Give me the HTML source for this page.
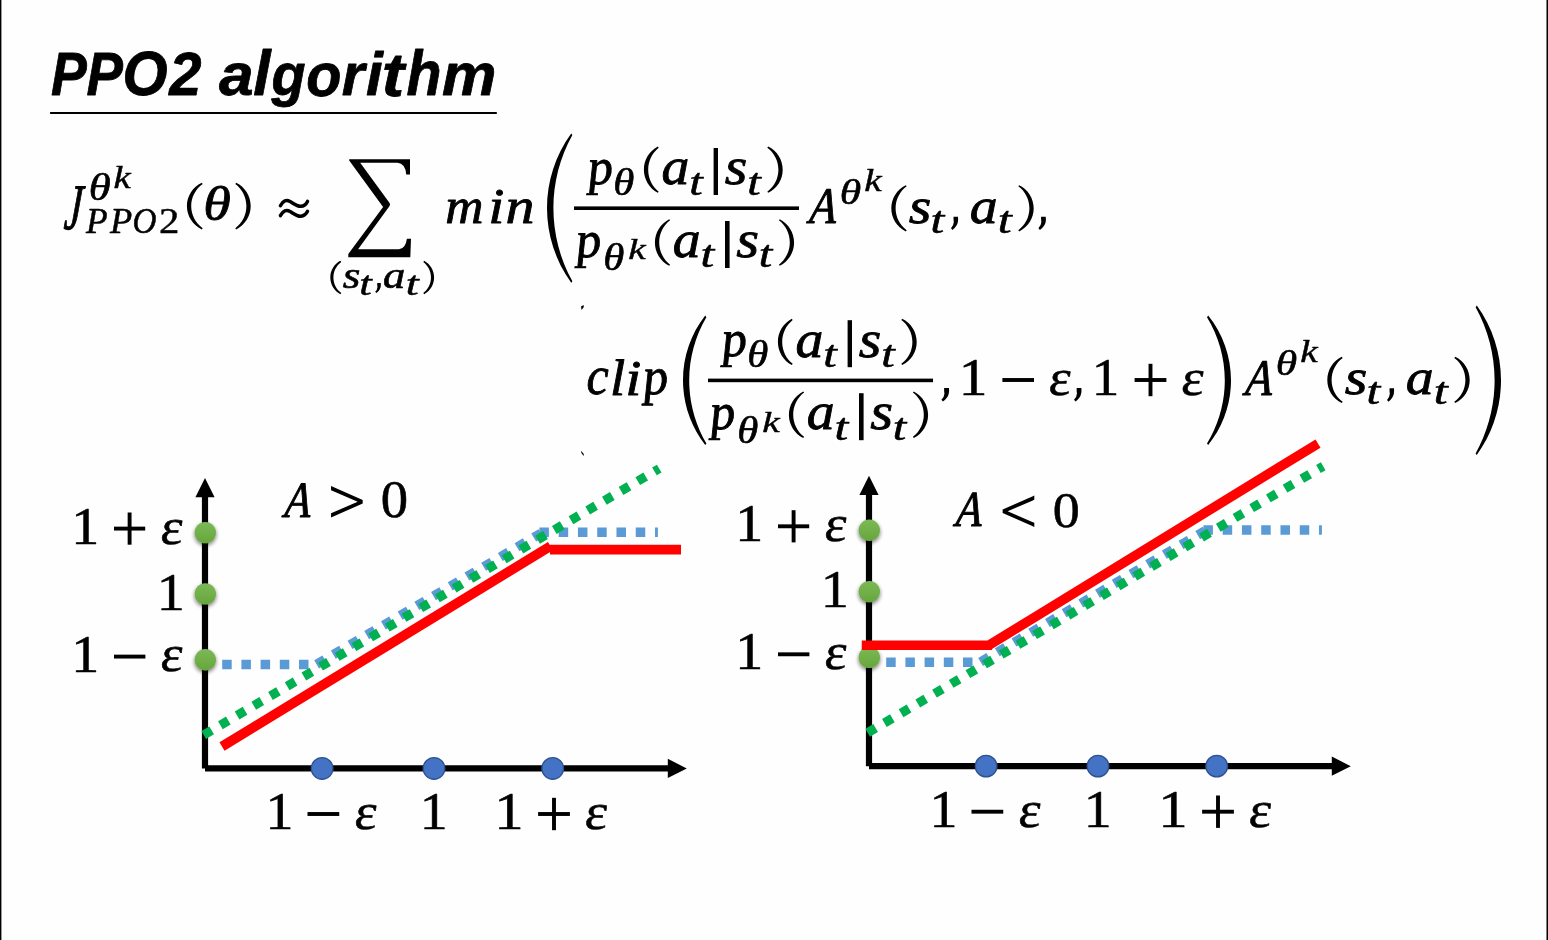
<!DOCTYPE html>
<html><head><meta charset="utf-8"><title>PPO2 algorithm</title>
<style>
html,body{margin:0;padding:0;background:#fff;}
body{width:1548px;height:940px;overflow:hidden;position:relative;font-family:"Liberation Sans",sans-serif;}
svg{position:absolute;left:0;top:0;display:block}
text{font-size:100px;fill:#000;stroke:#000;stroke-linejoin:round;}
.i{font-family:"Liberation Serif",serif;font-style:italic;}
.r{font-family:"Liberation Serif",serif;}
.b{font-family:"Liberation Sans",sans-serif;font-style:italic;font-weight:bold;}
</style></head><body>
<svg width="1548" height="940" viewBox="0 0 1548 940">
<defs>
<linearGradient id="gg" x1="0" y1="0" x2="0" y2="1"><stop offset="0" stop-color="#7CB957"/><stop offset="1" stop-color="#67A63B"/></linearGradient>
<filter id="sh" x="-50%" y="-50%" width="200%" height="200%"><feGaussianBlur in="SourceAlpha" stdDeviation="2"/><feOffset dx="0" dy="1.8" result="b"/><feComponentTransfer><feFuncA type="linear" slope="0.55"/></feComponentTransfer><feMerge><feMergeNode/><feMergeNode in="SourceGraphic"/></feMerge></filter>
</defs>
<rect x="0" y="0" width="1548" height="940" fill="#fefefe"/>
<rect x="0" y="0" width="1.4" height="940" fill="#000"/>
<rect x="1546.5" y="0" width="1.5" height="940" fill="#000"/>
<g opacity="0.999">
<text class="b" stroke-width="1.39" transform="matrix(0.5362,0,-0.0000,0.6119,51.06,94.90)">P</text>
<text class="b" stroke-width="1.38" transform="matrix(0.5454,0,-0.0000,0.6119,86.44,94.90)">P</text>
<text class="b" stroke-width="1.33" transform="matrix(0.5797,0,-0.0000,0.6215,122.57,95.39)">O</text>
<text class="b" stroke-width="1.34" transform="matrix(0.5788,0,-0.0000,0.6130,169.20,95.00)">2</text>
<text class="b" stroke-width="1.31" transform="matrix(0.6226,0,-0.0000,0.5969,218.90,95.42)">a</text>
<text class="b" stroke-width="1.28" transform="matrix(0.6227,0,-0.0000,0.6252,253.34,94.90)">l</text>
<text class="b" stroke-width="1.39" transform="matrix(0.5576,0,-0.0000,0.5972,271.49,95.21)">g</text>
<text class="b" stroke-width="1.36" transform="matrix(0.5750,0,-0.0000,0.6047,306.13,95.61)">o</text>
<text class="b" stroke-width="1.36" transform="matrix(0.5845,0,-0.0000,0.5928,341.70,95.00)">r</text>
<text class="b" stroke-width="1.31" transform="matrix(0.6047,0,-0.0000,0.6155,366.07,95.00)">i</text>
<text class="b" stroke-width="1.25" transform="matrix(0.6734,0,-0.0000,0.6105,381.87,95.72)">t</text>
<text class="b" stroke-width="1.33" transform="matrix(0.5727,0,-0.0000,0.6265,406.42,95.00)">h</text>
<text class="b" stroke-width="1.33" transform="matrix(0.6116,0,-0.0000,0.5934,442.05,95.00)">m</text>
<rect x="50.10" y="112.00" width="446.70" height="2.00" fill="#000"/>
<text class="i" stroke-width="1.72" transform="matrix(0.3983,0,-0.0478,0.6486,63.19,228.92)">J</text>
<text class="i" stroke-width="1.58" transform="matrix(0.4476,0,-0.0000,0.3717,88.74,200.31)">θ</text>
<text class="i" stroke-width="1.58" transform="matrix(0.3873,0,-0.0000,0.3206,113.56,188.12)">k</text>
<text class="i" stroke-width="1.40" transform="matrix(0.3537,0,-0.0000,0.3589,86.04,232.75)">P</text>
<text class="i" stroke-width="1.38" transform="matrix(0.3639,0,-0.0000,0.3589,110.05,232.75)">P</text>
<text class="i" stroke-width="1.43" transform="matrix(0.3316,0,-0.0000,0.3676,132.58,232.99)">O</text>
<text class="r" stroke-width="1.18" transform="matrix(0.4079,0,-0.0000,0.3557,159.03,232.78)">2</text>
<path d="M201.80,182.80 C192.72,187.00 186.90,196.09 186.90,206.10 C186.90,216.11 192.72,225.20 201.80,229.40 L202.70,228.23 C195.49,223.17 191.20,214.91 191.20,206.10 C191.20,197.29 195.49,189.03 202.70,183.97 Z" fill="#000"/>
<text class="i" stroke-width="1.63" transform="matrix(0.5619,0,-0.0000,0.4929,203.28,219.89)">θ</text>
<path d="M236.20,182.80 C245.08,187.17 250.70,196.21 250.70,206.10 C250.70,215.99 245.08,225.03 236.20,229.40 L235.30,228.23 C242.29,223.02 246.40,214.82 246.40,206.10 C246.40,197.38 242.29,189.18 235.30,183.97 Z" fill="#000"/>
<path d="M340.40,260.80 C334.19,264.06 330.30,270.49 330.30,277.50 C330.30,284.51 334.19,290.94 340.40,294.20 L341.30,293.03 C336.35,289.41 333.42,283.64 333.42,277.50 C333.42,271.36 336.35,265.59 341.30,261.97 Z" fill="#000"/>
<text class="i" stroke-width="1.63" transform="matrix(0.4533,0,-0.0000,0.3891,342.79,287.68)">s</text>
<text class="i" stroke-width="1.49" transform="matrix(0.4497,0,-0.0000,0.3321,359.31,294.99)">t</text>
<path d="M377.23,283.10 L380.83,283.10 Q381.35,287.60 379.38,290.10 Q378.10,291.90 376.36,293.10 L375.20,291.80 Q377.29,289.90 377.46,287.10 Q377.11,285.10 377.23,283.10 Z" fill="#000"/>
<text class="i" stroke-width="1.64" transform="matrix(0.4465,0,-0.0000,0.3891,383.01,287.66)">a</text>
<text class="i" stroke-width="1.46" transform="matrix(0.4655,0,-0.0000,0.3321,405.84,294.99)">t</text>
<path d="M424.20,260.80 C430.30,264.14 434.10,270.54 434.10,277.50 C434.10,284.46 430.30,290.86 424.20,294.20 L423.30,293.03 C428.14,289.33 430.98,283.59 430.98,277.50 C430.98,271.41 428.14,265.67 423.30,261.97 Z" fill="#000"/>
<text class="i" stroke-width="1.73" transform="matrix(0.5295,0,-0.0000,0.5115,445.14,222.95)">m</text>
<text class="i" stroke-width="1.61" transform="matrix(0.5802,0,-0.0000,0.4974,488.20,222.97)">i</text>
<text class="i" stroke-width="1.65" transform="matrix(0.5794,0,-0.0000,0.5115,505.38,222.95)">n</text>
<path d="M1041.06,216.70 L1045.77,216.70 Q1046.46,222.73 1043.87,226.08 Q1042.20,228.49 1039.92,230.10 L1038.40,228.36 Q1041.14,225.81 1041.36,222.06 Q1040.91,219.38 1041.06,216.70 Z" fill="#000"/>
<text class="i" stroke-width="1.76" transform="matrix(0.5013,0,0.0351,0.5132,588.64,183.63)">p</text>
<text class="i" stroke-width="1.61" transform="matrix(0.4287,0,-0.0000,0.3690,613.23,194.52)">θ</text>
<path d="M657.80,146.60 C649.25,151.13 643.90,160.02 643.90,169.70 C643.90,179.38 649.25,188.27 657.80,192.80 L658.70,191.63 C652.06,186.29 648.20,178.22 648.20,169.70 C648.20,161.18 652.06,153.11 658.70,147.77 Z" fill="#000"/>
<text class="i" stroke-width="1.67" transform="matrix(0.5571,0,-0.0000,0.5219,661.39,184.41)">a</text>
<text class="i" stroke-width="1.53" transform="matrix(0.4861,0,-0.0000,0.3761,689.19,194.50)">t</text>
<text class="i" stroke-width="1.63" transform="matrix(0.5798,0,-0.0000,0.5219,724.74,184.44)">s</text>
<text class="i" stroke-width="1.53" transform="matrix(0.4861,0,-0.0000,0.3761,747.19,194.50)">t</text>
<path d="M768.20,146.60 C777.07,150.88 782.70,159.86 782.70,169.70 C782.70,179.54 777.07,188.52 768.20,192.80 L767.30,191.63 C774.28,186.50 778.40,178.36 778.40,169.70 C778.40,161.04 774.28,152.90 767.30,147.77 Z" fill="#000"/>
<text class="i" stroke-width="1.76" transform="matrix(0.5013,0,0.0351,0.5132,577.04,256.63)">p</text>
<text class="i" stroke-width="1.62" transform="matrix(0.4285,0,-0.0000,0.3717,603.23,270.31)">θ</text>
<text class="i" stroke-width="1.52" transform="matrix(0.3926,0,-0.0000,0.3037,628.13,259.34)">k</text>
<path d="M669.20,219.20 C660.43,223.66 654.90,232.66 654.90,242.50 C654.90,252.34 660.43,261.34 669.20,265.80 L670.10,264.63 C663.23,259.35 659.20,251.17 659.20,242.50 C659.20,233.83 663.23,225.65 670.10,220.37 Z" fill="#000"/>
<text class="i" stroke-width="1.67" transform="matrix(0.5571,0,-0.0000,0.5219,672.79,257.01)">a</text>
<text class="i" stroke-width="1.52" transform="matrix(0.4937,0,-0.0000,0.3795,700.56,267.30)">t</text>
<text class="i" stroke-width="1.63" transform="matrix(0.5856,0,-0.0000,0.5219,736.14,257.04)">s</text>
<text class="i" stroke-width="1.53" transform="matrix(0.4858,0,-0.0000,0.3795,758.80,267.30)">t</text>
<path d="M779.80,219.20 C788.57,223.66 794.10,232.66 794.10,242.50 C794.10,252.34 788.57,261.34 779.80,265.80 L778.90,264.63 C785.77,259.35 789.80,251.17 789.80,242.50 C789.80,233.83 785.77,225.65 778.90,220.37 Z" fill="#000"/>
<rect x="713.60" y="148.00" width="4.40" height="47.00" fill="#000"/>
<rect x="725.00" y="221.00" width="4.60" height="47.00" fill="#000"/>
<rect x="574.00" y="206.40" width="225.00" height="3.60" fill="#000"/>
<text class="i" stroke-width="1.76" transform="matrix(0.5013,0,0.0351,0.5132,722.64,355.83)">p</text>
<text class="i" stroke-width="1.61" transform="matrix(0.4287,0,-0.0000,0.3690,747.23,366.72)">θ</text>
<path d="M791.80,318.80 C783.25,323.33 777.90,332.22 777.90,341.90 C777.90,351.58 783.25,360.47 791.80,365.00 L792.70,363.83 C786.06,358.49 782.20,350.42 782.20,341.90 C782.20,333.38 786.06,325.31 792.70,319.97 Z" fill="#000"/>
<text class="i" stroke-width="1.67" transform="matrix(0.5571,0,-0.0000,0.5219,795.39,356.61)">a</text>
<text class="i" stroke-width="1.53" transform="matrix(0.4861,0,-0.0000,0.3761,823.19,366.70)">t</text>
<text class="i" stroke-width="1.63" transform="matrix(0.5798,0,-0.0000,0.5219,858.74,356.64)">s</text>
<text class="i" stroke-width="1.53" transform="matrix(0.4861,0,-0.0000,0.3761,881.19,366.70)">t</text>
<path d="M902.20,318.80 C911.07,323.08 916.70,332.06 916.70,341.90 C916.70,351.74 911.07,360.72 902.20,365.00 L901.30,363.83 C908.28,358.70 912.40,350.56 912.40,341.90 C912.40,333.24 908.28,325.10 901.30,319.97 Z" fill="#000"/>
<text class="i" stroke-width="1.76" transform="matrix(0.5013,0,0.0351,0.5132,711.04,428.83)">p</text>
<text class="i" stroke-width="1.62" transform="matrix(0.4285,0,-0.0000,0.3717,737.23,442.51)">θ</text>
<text class="i" stroke-width="1.52" transform="matrix(0.3926,0,-0.0000,0.3037,762.13,431.54)">k</text>
<path d="M803.20,391.40 C794.43,395.86 788.90,404.86 788.90,414.70 C788.90,424.54 794.43,433.54 803.20,438.00 L804.10,436.83 C797.23,431.55 793.20,423.37 793.20,414.70 C793.20,406.03 797.23,397.85 804.10,392.57 Z" fill="#000"/>
<text class="i" stroke-width="1.67" transform="matrix(0.5571,0,-0.0000,0.5219,806.79,429.21)">a</text>
<text class="i" stroke-width="1.52" transform="matrix(0.4937,0,-0.0000,0.3795,834.56,439.50)">t</text>
<text class="i" stroke-width="1.63" transform="matrix(0.5856,0,-0.0000,0.5219,870.14,429.24)">s</text>
<text class="i" stroke-width="1.53" transform="matrix(0.4858,0,-0.0000,0.3795,892.80,439.50)">t</text>
<path d="M913.80,391.40 C922.57,395.86 928.10,404.86 928.10,414.70 C928.10,424.54 922.57,433.54 913.80,438.00 L912.90,436.83 C919.77,431.55 923.80,423.37 923.80,414.70 C923.80,406.03 919.77,397.85 912.90,392.57 Z" fill="#000"/>
<rect x="847.60" y="320.20" width="4.40" height="47.00" fill="#000"/>
<rect x="859.00" y="393.20" width="4.60" height="47.00" fill="#000"/>
<rect x="708.00" y="378.60" width="225.00" height="3.60" fill="#000"/>
<text class="i" stroke-width="1.88" transform="matrix(0.4409,0,-0.0441,0.5136,808.86,222.95)">A</text>
<text class="i" stroke-width="1.58" transform="matrix(0.4360,0,-0.0000,0.3634,839.79,203.73)">θ</text>
<text class="i" stroke-width="1.55" transform="matrix(0.3922,0,-0.0000,0.3149,864.14,190.73)">k</text>
<path d="M905.80,185.20 C896.93,189.48 891.30,198.46 891.30,208.30 C891.30,218.14 896.93,227.12 905.80,231.40 L906.70,230.23 C899.72,225.10 895.60,216.96 895.60,208.30 C895.60,199.64 899.72,191.50 906.70,186.37 Z" fill="#000"/>
<text class="i" stroke-width="1.65" transform="matrix(0.5799,0,-0.0000,0.5095,908.74,222.85)">s</text>
<text class="i" stroke-width="1.53" transform="matrix(0.4935,0,-0.0000,0.3829,930.57,232.89)">t</text>
<path d="M953.52,216.70 L957.98,216.70 Q958.63,222.73 956.18,226.08 Q954.60,228.49 952.44,230.10 L951.00,228.36 Q953.59,225.81 953.81,222.06 Q953.38,219.38 953.52,216.70 Z" fill="#000"/>
<text class="i" stroke-width="1.68" transform="matrix(0.5571,0,-0.0000,0.5095,969.79,222.83)">a</text>
<text class="i" stroke-width="1.52" transform="matrix(0.5014,0,-0.0000,0.3829,997.73,232.89)">t</text>
<path d="M1019.20,185.20 C1028.07,189.48 1033.70,198.46 1033.70,208.30 C1033.70,218.14 1028.07,227.12 1019.20,231.40 L1018.30,230.23 C1025.28,225.10 1029.40,216.96 1029.40,208.30 C1029.40,199.64 1025.28,191.50 1018.30,186.37 Z" fill="#000"/>
<text class="i" stroke-width="1.88" transform="matrix(0.4409,0,-0.0441,0.5136,1244.86,394.55)">A</text>
<text class="i" stroke-width="1.58" transform="matrix(0.4360,0,-0.0000,0.3634,1275.79,375.33)">θ</text>
<text class="i" stroke-width="1.55" transform="matrix(0.3922,0,-0.0000,0.3149,1300.14,362.33)">k</text>
<path d="M1341.80,356.80 C1332.93,361.08 1327.30,370.06 1327.30,379.90 C1327.30,389.74 1332.93,398.72 1341.80,403.00 L1342.70,401.83 C1335.72,396.70 1331.60,388.56 1331.60,379.90 C1331.60,371.24 1335.72,363.10 1342.70,357.97 Z" fill="#000"/>
<text class="i" stroke-width="1.65" transform="matrix(0.5799,0,-0.0000,0.5095,1344.74,394.45)">s</text>
<text class="i" stroke-width="1.53" transform="matrix(0.4935,0,-0.0000,0.3829,1366.57,404.49)">t</text>
<path d="M1389.52,388.30 L1393.98,388.30 Q1394.63,394.33 1392.18,397.68 Q1390.60,400.09 1388.44,401.70 L1387.00,399.96 Q1389.59,397.41 1389.81,393.66 Q1389.38,390.98 1389.52,388.30 Z" fill="#000"/>
<text class="i" stroke-width="1.68" transform="matrix(0.5571,0,-0.0000,0.5095,1405.79,394.43)">a</text>
<text class="i" stroke-width="1.52" transform="matrix(0.5014,0,-0.0000,0.3829,1433.73,404.49)">t</text>
<path d="M1455.20,356.80 C1464.07,361.08 1469.70,370.06 1469.70,379.90 C1469.70,389.74 1464.07,398.72 1455.20,403.00 L1454.30,401.83 C1461.28,396.70 1465.40,388.56 1465.40,379.90 C1465.40,371.24 1461.28,363.10 1454.30,357.97 Z" fill="#000"/>
<text class="i" stroke-width="1.73" transform="matrix(0.4996,0,-0.0000,0.5385,586.51,394.42)">c</text>
<text class="i" stroke-width="1.67" transform="matrix(0.5487,0,-0.0000,0.5061,609.92,394.56)">l</text>
<text class="i" stroke-width="1.63" transform="matrix(0.5791,0,-0.0000,0.5092,625.22,394.56)">i</text>
<text class="i" stroke-width="1.75" transform="matrix(0.5012,0,0.0351,0.5277,644.04,393.92)">p</text>
<path d="M944.13,388.10 L948.97,388.10 Q949.67,394.13 947.02,397.48 Q945.30,399.89 942.96,401.50 L941.40,399.76 Q944.21,397.21 944.44,393.46 Q943.97,390.78 944.13,388.10 Z" fill="#000"/>
<text class="r" stroke-width="1.09" transform="matrix(0.5738,0,-0.0000,0.5256,958.86,394.70)">1</text>
<text class="r" stroke-width="1.15" transform="matrix(0.5280,0,-0.0634,0.5157,1047.50,394.60)">ε</text>
<path d="M1076.66,388.10 L1081.37,388.10 Q1082.06,394.13 1079.47,397.48 Q1077.80,399.89 1075.52,401.50 L1074.00,399.76 Q1076.74,397.21 1076.96,393.46 Q1076.51,390.78 1076.66,388.10 Z" fill="#000"/>
<text class="r" stroke-width="1.11" transform="matrix(0.5511,0,-0.0000,0.5256,1091.86,394.70)">1</text>
<text class="r" stroke-width="1.13" transform="matrix(0.5386,0,-0.0646,0.5157,1180.04,394.60)">ε</text>
<rect x="1002.40" y="378.05" width="31.60" height="3.90" fill="#000"/>
<rect x="1134.60" y="378.05" width="31.80" height="3.90" fill="#000"/>
<rect x="1148.55" y="363.80" width="3.90" height="32.40" fill="#000"/>
<path d="M280.4,205.7 C283,200.5 286.5,199.5 290,201.5 S297,206.5 300.8,206.3 S306,204.5 307.5,201.4 M280.4,215.65 C283,210.45 286.5,209.45 290,211.45 S297,216.45 300.8,216.25 S306,214.45 307.5,211.35" stroke="#000" stroke-width="3.5" stroke-linecap="round" fill="none"/>
<path d="M349.2,159.2 L410,159.2 L410,174.5 L406.2,174.5 Q405.4,163.4 397.5,162.8 L360.2,162.8 L389.6,203 Q390.6,204.6 389.4,206.2 L358.1,249.3 L399,249.3 Q405.6,248.6 406.9,238.7 L411,238.7 L410.3,257.2 L348.3,257.2 L348.3,254 L383.1,206.9 L349.2,160.6 Z" fill="#000"/>
<path d="M571.20,133.40 C555.47,155.13 547.00,181.27 547.00,208.10 C547.00,234.93 555.47,261.07 571.20,282.80 L572.40,281.24 C559.94,258.88 553.40,233.70 553.40,208.10 C553.40,182.50 559.94,157.32 572.40,134.96 Z" fill="#000"/>
<path d="M1476.80,305.60 C1492.53,327.33 1501.00,353.47 1501.00,380.30 C1501.00,407.13 1492.53,433.27 1476.80,455.00 L1475.60,453.44 C1488.06,431.08 1494.60,405.90 1494.60,380.30 C1494.60,354.70 1488.06,329.52 1475.60,307.16 Z" fill="#000"/>
<path d="M705.20,315.60 C690.81,334.10 683.00,356.86 683.00,380.30 C683.00,403.74 690.81,426.50 705.20,445.00 L706.40,443.44 C695.14,424.30 689.20,402.50 689.20,380.30 C689.20,358.10 695.14,336.30 706.40,317.16 Z" fill="#000"/>
<path d="M1208.20,315.60 C1222.96,333.94 1231.00,356.76 1231.00,380.30 C1231.00,403.84 1222.96,426.66 1208.20,445.00 L1207.00,443.44 C1218.64,424.44 1224.80,402.59 1224.80,380.30 C1224.80,358.01 1218.64,336.16 1207.00,317.16 Z" fill="#000"/>
<path d="M581,306.5 L583.6,305 L583.8,307 L581.6,310 Z M581,450.8 L583.8,454 L583.6,456 L581.4,453 Z" fill="#000"/>
<text class="r" stroke-width="1.11" transform="matrix(0.5596,0,-0.0000,0.5256,71.28,543.60)">1</text>
<text class="r" stroke-width="1.14" transform="matrix(0.5308,0,-0.0637,0.5116,159.18,543.50)">ε</text>
<text class="r" stroke-width="1.10" transform="matrix(0.5624,0,-0.0000,0.5256,156.66,609.50)">1</text>
<text class="r" stroke-width="1.11" transform="matrix(0.5596,0,-0.0000,0.5256,71.28,671.50)">1</text>
<text class="r" stroke-width="1.14" transform="matrix(0.5308,0,-0.0637,0.5116,159.18,671.40)">ε</text>
<text class="r" stroke-width="1.11" transform="matrix(0.5596,0,-0.0000,0.5241,265.38,829.00)">1</text>
<text class="r" stroke-width="1.14" transform="matrix(0.5321,0,-0.0639,0.5116,353.22,828.90)">ε</text>
<text class="r" stroke-width="1.11" transform="matrix(0.5582,0,-0.0000,0.5241,419.64,829.00)">1</text>
<text class="r" stroke-width="1.08" transform="matrix(0.5880,0,-0.0000,0.5241,494.13,829.00)">1</text>
<text class="r" stroke-width="1.13" transform="matrix(0.5387,0,-0.0646,0.5116,583.44,828.90)">ε</text>
<rect x="114.00" y="526.65" width="31.20" height="3.90" fill="#000"/>
<rect x="127.65" y="512.50" width="3.90" height="32.20" fill="#000"/>
<rect x="114.00" y="654.65" width="31.40" height="3.90" fill="#000"/>
<rect x="307.50" y="812.05" width="31.75" height="3.90" fill="#000"/>
<rect x="538.10" y="812.05" width="31.80" height="3.90" fill="#000"/>
<rect x="552.05" y="797.80" width="3.90" height="32.40" fill="#000"/>
<path d="M205,768.45 V496 M205,768.45 H669" stroke="#000" stroke-width="6.2" fill="none"/>
<path d="M205,478 L214.6,497.2 L195.4,497.2 Z M686.8,768.45 L667.8,758.85 L667.8,778.0500000000001 Z" fill="#000"/>
<circle cx="205.3" cy="532.6" r="10.7" fill="url(#gg)" filter="url(#sh)"/><circle cx="205.3" cy="593.9" r="10.7" fill="url(#gg)" filter="url(#sh)"/><circle cx="205.3" cy="659.7" r="10.7" fill="url(#gg)" filter="url(#sh)"/>
<g stroke="#5B9BD5" stroke-width="9.5" fill="none"><path d="M222.2,664.5 H309.6" stroke-dasharray="9.5 9.7"/><path d="M316.6,664.3 L541,533.25" stroke-dasharray="9.5 9.84"/><path d="M539.4,532.3 H657.9" stroke-dasharray="9.5 9.77"/></g>
<path d="M203.7,735 L659.2,468.6" stroke="#00B050" stroke-width="9.2" stroke-dasharray="9.2 10.14" fill="none"/>
<path d="M222,746.5 L550.5,546.2 M550,549.7 H681" stroke="#FF0000" stroke-width="9.7" fill="none"/>
<circle cx="322.1" cy="768.45" r="10.8" fill="#4472C4" stroke="#2F528F" stroke-width="1.3"/>
<circle cx="434" cy="768.45" r="10.8" fill="#4472C4" stroke="#2F528F" stroke-width="1.3"/>
<circle cx="552.7" cy="768.45" r="10.8" fill="#4472C4" stroke="#2F528F" stroke-width="1.3"/>
<text class="r" stroke-width="1.11" transform="matrix(0.5596,0,-0.0000,0.5256,735.28,541.30)">1</text>
<text class="r" stroke-width="1.14" transform="matrix(0.5308,0,-0.0637,0.5116,823.18,541.20)">ε</text>
<text class="r" stroke-width="1.10" transform="matrix(0.5624,0,-0.0000,0.5256,820.66,607.20)">1</text>
<text class="r" stroke-width="1.11" transform="matrix(0.5596,0,-0.0000,0.5256,735.28,669.20)">1</text>
<text class="r" stroke-width="1.14" transform="matrix(0.5308,0,-0.0637,0.5116,823.18,669.10)">ε</text>
<text class="r" stroke-width="1.11" transform="matrix(0.5596,0,-0.0000,0.5241,929.38,826.70)">1</text>
<text class="r" stroke-width="1.14" transform="matrix(0.5321,0,-0.0639,0.5116,1017.22,826.60)">ε</text>
<text class="r" stroke-width="1.11" transform="matrix(0.5582,0,-0.0000,0.5241,1083.64,826.70)">1</text>
<text class="r" stroke-width="1.08" transform="matrix(0.5880,0,-0.0000,0.5241,1158.13,826.70)">1</text>
<text class="r" stroke-width="1.13" transform="matrix(0.5387,0,-0.0646,0.5116,1247.44,826.60)">ε</text>
<rect x="778.00" y="524.35" width="31.20" height="3.90" fill="#000"/>
<rect x="791.65" y="510.20" width="3.90" height="32.20" fill="#000"/>
<rect x="778.00" y="652.35" width="31.40" height="3.90" fill="#000"/>
<rect x="971.50" y="809.75" width="31.75" height="3.90" fill="#000"/>
<rect x="1202.10" y="809.75" width="31.80" height="3.90" fill="#000"/>
<rect x="1216.05" y="795.50" width="3.90" height="32.40" fill="#000"/>
<path d="M869,766.1500000000001 V493.7 M869,766.1500000000001 H1333" stroke="#000" stroke-width="6.2" fill="none"/>
<path d="M869,475.7 L878.6,494.9 L859.4,494.9 Z M1350.8,766.1500000000001 L1331.8,756.5500000000001 L1331.8,775.7500000000001 Z" fill="#000"/>
<circle cx="869.3" cy="530.3000000000001" r="10.7" fill="url(#gg)" filter="url(#sh)"/><circle cx="869.3" cy="591.6" r="10.7" fill="url(#gg)" filter="url(#sh)"/><circle cx="869.3" cy="657.4000000000001" r="10.7" fill="url(#gg)" filter="url(#sh)"/>
<g stroke="#5B9BD5" stroke-width="9.5" fill="none"><path d="M886.2,662.2 H973.6" stroke-dasharray="9.5 9.7"/><path d="M980.6,662.0 L1205,530.95" stroke-dasharray="9.5 9.84"/><path d="M1203.4,530.0 H1321.9" stroke-dasharray="9.5 9.77"/></g>
<path d="M867.7,732.7 L1323.2,466.3" stroke="#00B050" stroke-width="9.2" stroke-dasharray="9.2 10.14" fill="none"/>
<path d="M861.75,645.3 H992 M989.5,644.9 L1318,443.6" stroke="#FF0000" stroke-width="9.6" fill="none"/>
<circle cx="986.1" cy="766.1500000000001" r="10.8" fill="#4472C4" stroke="#2F528F" stroke-width="1.3"/>
<circle cx="1098" cy="766.1500000000001" r="10.8" fill="#4472C4" stroke="#2F528F" stroke-width="1.3"/>
<circle cx="1216.7" cy="766.1500000000001" r="10.8" fill="#4472C4" stroke="#2F528F" stroke-width="1.3"/>
<text class="i" stroke-width="1.90" transform="matrix(0.4261,0,-0.0426,0.5092,284.02,516.56)">A</text>
<text class="r" stroke-width="1.12" transform="matrix(0.5463,0,-0.0000,0.5173,380.72,517.20)">0</text>
<path d="M331.05,486.00 L362.70,500.00 L362.70,503.40 L331.05,517.50 L331.05,513.30 L357.70,501.70 L331.05,490.35 Z" fill="#000"/>
<text class="i" stroke-width="1.89" transform="matrix(0.4262,0,-0.0426,0.5055,955.27,525.81)">A</text>
<text class="r" stroke-width="1.13" transform="matrix(0.5404,0,-0.0000,0.5173,1052.74,526.70)">0</text>
<path d="M1034.30,495.50 L1002.65,509.50 L1002.65,512.90 L1034.30,527.00 L1034.30,522.80 L1007.65,511.20 L1034.30,499.85 Z" fill="#000"/>
</g>
</svg>
</body></html>
